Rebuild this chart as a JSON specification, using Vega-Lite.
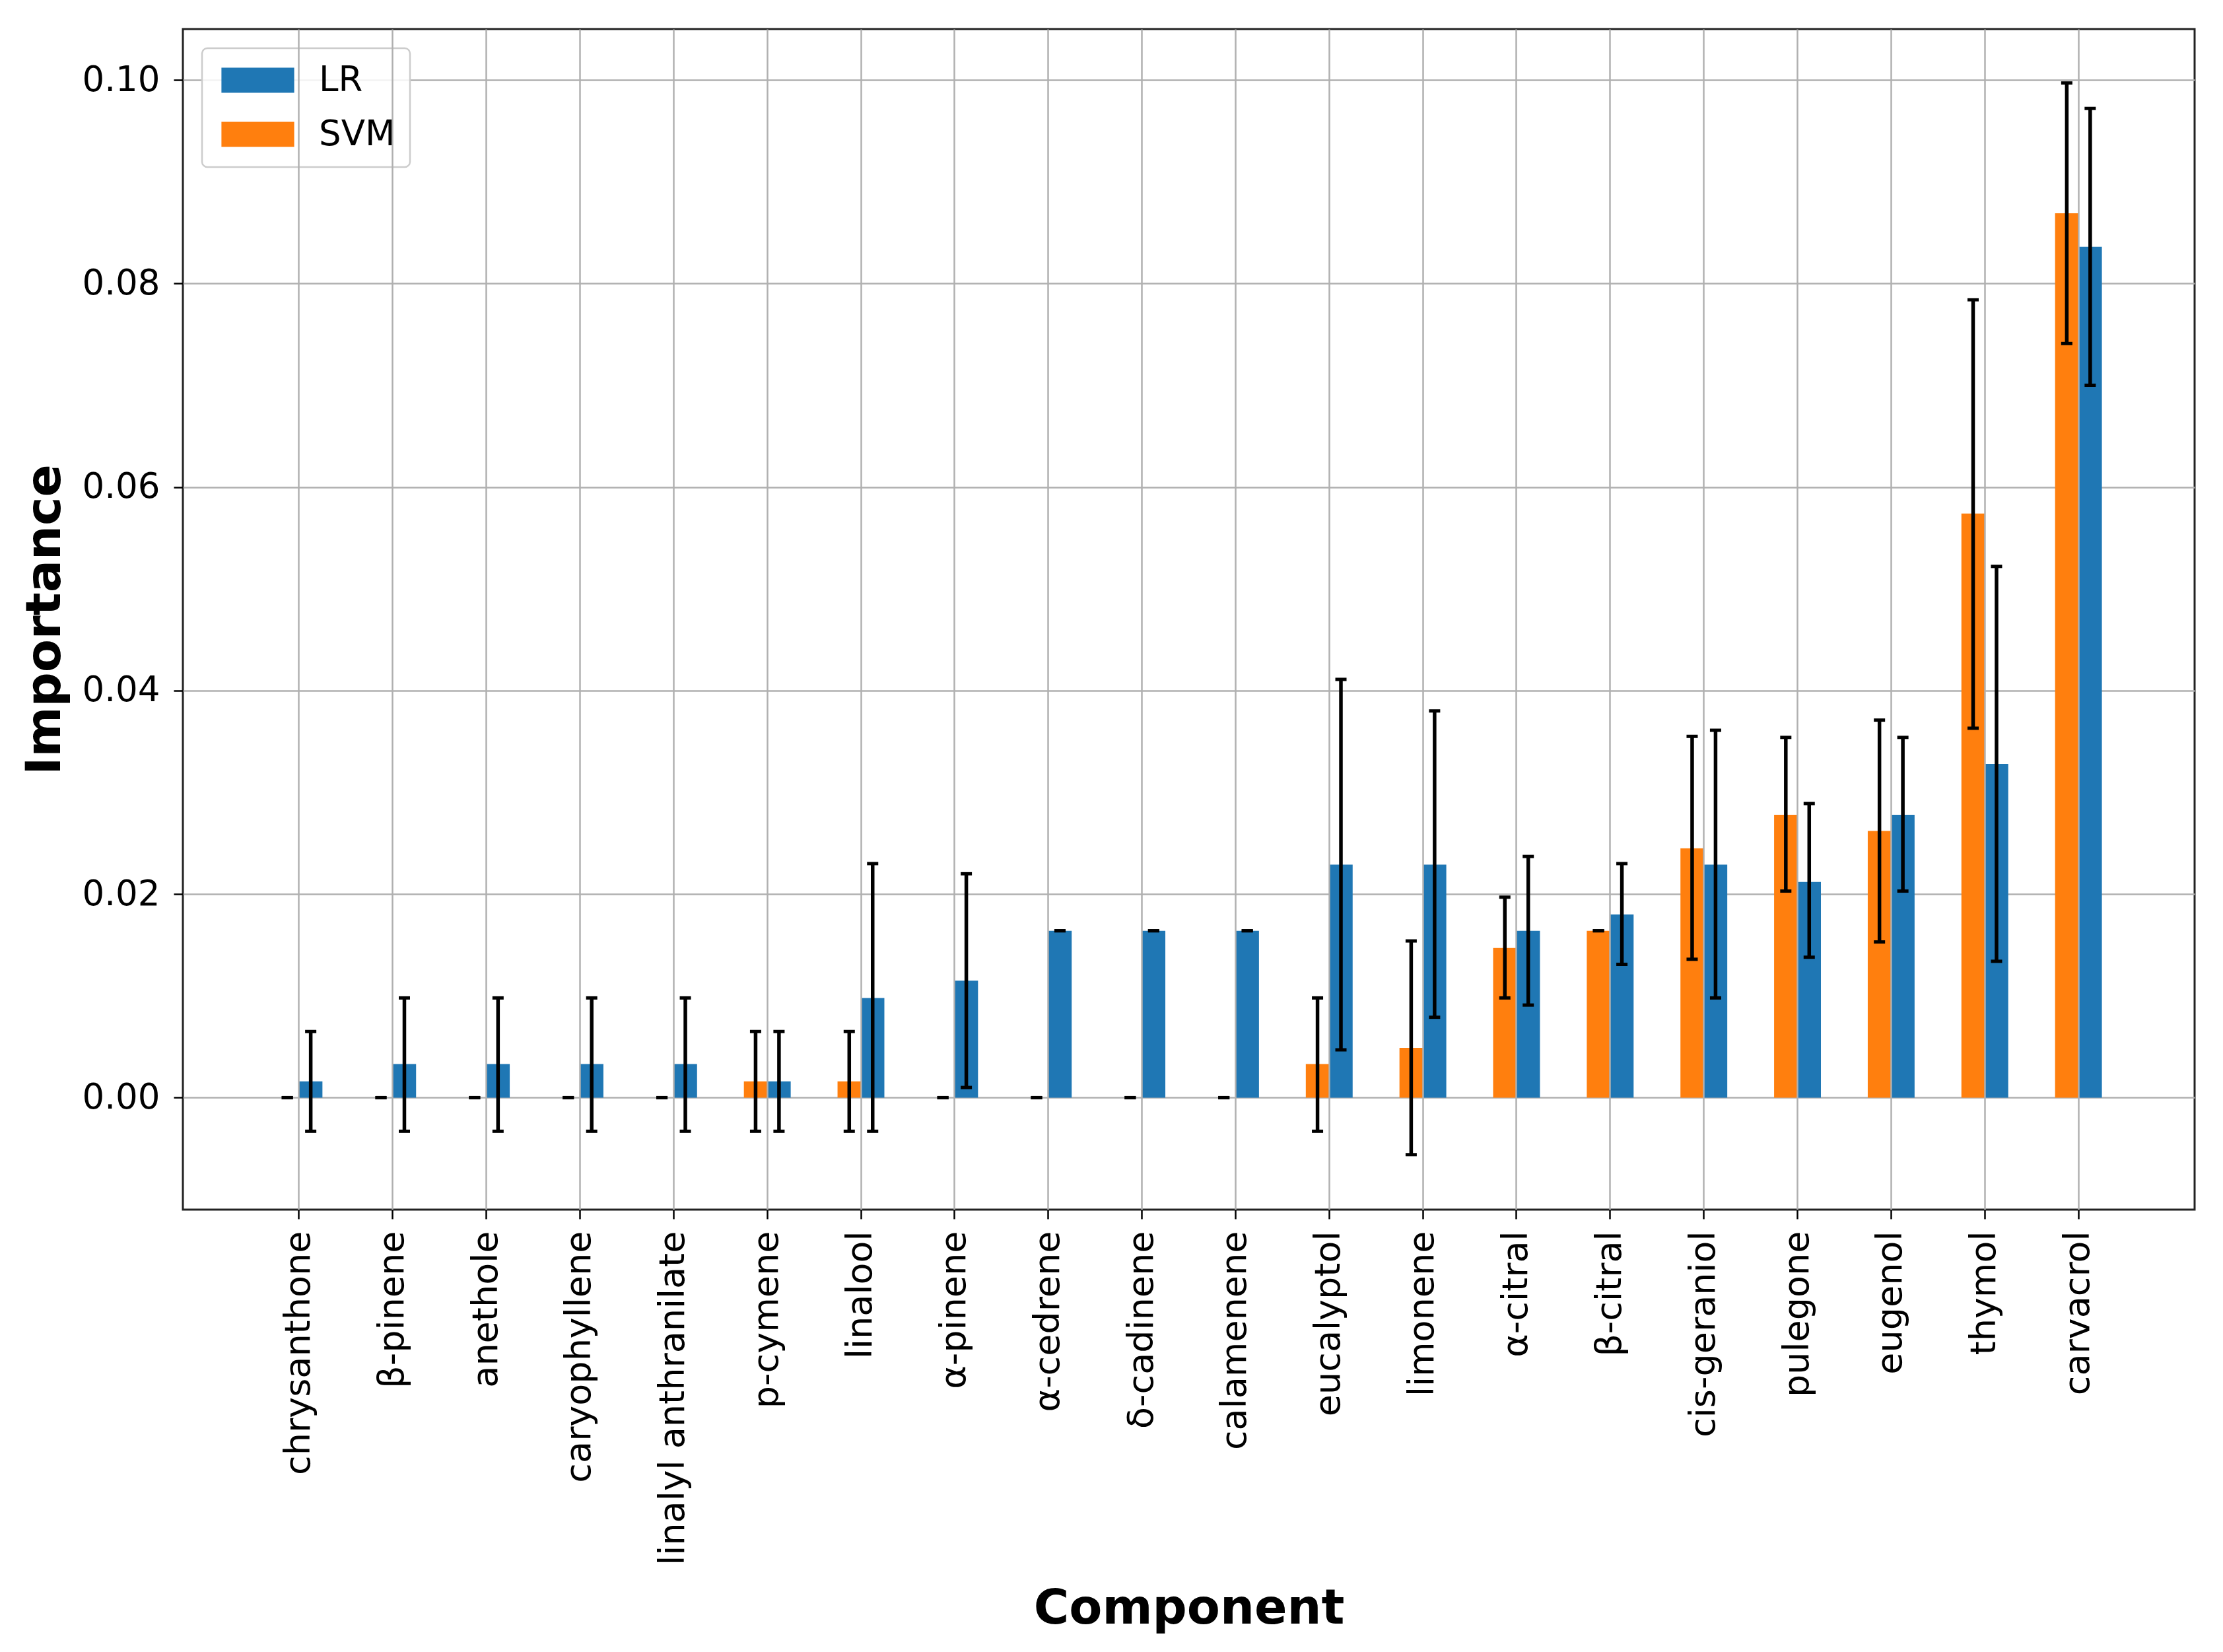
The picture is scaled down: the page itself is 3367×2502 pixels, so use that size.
{
  "$schema": "https://vega.github.io/schema/vega-lite/v6.json",
  "width": 3047,
  "height": 1788,
  "autosize": {"type": "none"},
  "padding": {"left": 277, "top": 44, "right": 43, "bottom": 670},
  "background": "white",
  "config": {
    "font": "DejaVu Sans",
    "view": {"stroke": "#222222", "strokeWidth": 3},
    "axisY": {
      "labelFontSize": 53,
      "labelColor": "black",
      "labelPadding": 21,
      "tickColor": "black",
      "tickSize": 14,
      "tickWidth": 2.5,
      "domain": false,
      "grid": true,
      "gridColor": "#b0b0b0",
      "gridWidth": 2.5,
      "titleFontSize": 73,
      "titleFontWeight": "bold",
      "titleColor": "black",
      "titlePadding": 18,
      "zindex": 1
    },
    "legend": {
      "orient": "top-left",
      "offset": 29,
      "padding": 22,
      "fillColor": "rgba(255,255,255,0.85)",
      "strokeColor": "#cccccc",
      "strokeWidth": 2.5,
      "cornerRadius": 8,
      "symbolType": "M-2.9,-1H2.9V1H-2.9Z",
      "symbolSize": 1444,
      "symbolOffset": 36,
      "symbolStrokeWidth": 0,
      "symbolOpacity": 1,
      "labelOffset": 66,
      "labelFontSize": 53,
      "labelColor": "black",
      "rowPadding": 28
    }
  },
  "data": {
    "values": [
      {"component": "chrysanthone", "model": "SVM", "importance": 0.0, "lo": 0.0, "hi": 0.0},
      {"component": "chrysanthone", "model": "LR", "importance": 0.0016, "lo": -0.0033, "hi": 0.0065},
      {"component": "β-pinene", "model": "SVM", "importance": 0.0, "lo": 0.0, "hi": 0.0},
      {"component": "β-pinene", "model": "LR", "importance": 0.0033, "lo": -0.0033, "hi": 0.0098},
      {"component": "anethole", "model": "SVM", "importance": 0.0, "lo": 0.0, "hi": 0.0},
      {"component": "anethole", "model": "LR", "importance": 0.0033, "lo": -0.0033, "hi": 0.0098},
      {"component": "caryophyllene", "model": "SVM", "importance": 0.0, "lo": 0.0, "hi": 0.0},
      {"component": "caryophyllene", "model": "LR", "importance": 0.0033, "lo": -0.0033, "hi": 0.0098},
      {"component": "linalyl anthranilate", "model": "SVM", "importance": 0.0, "lo": 0.0, "hi": 0.0},
      {"component": "linalyl anthranilate", "model": "LR", "importance": 0.0033, "lo": -0.0033, "hi": 0.0098},
      {"component": "p-cymene", "model": "SVM", "importance": 0.0016, "lo": -0.0033, "hi": 0.0065},
      {"component": "p-cymene", "model": "LR", "importance": 0.0016, "lo": -0.0033, "hi": 0.0065},
      {"component": "linalool", "model": "SVM", "importance": 0.0016, "lo": -0.0033, "hi": 0.0065},
      {"component": "linalool", "model": "LR", "importance": 0.0098, "lo": -0.0033, "hi": 0.0230},
      {"component": "α-pinene", "model": "SVM", "importance": 0.0, "lo": 0.0, "hi": 0.0},
      {"component": "α-pinene", "model": "LR", "importance": 0.0115, "lo": 0.0010, "hi": 0.0220},
      {"component": "α-cedrene", "model": "SVM", "importance": 0.0, "lo": 0.0, "hi": 0.0},
      {"component": "α-cedrene", "model": "LR", "importance": 0.0164, "lo": 0.0164, "hi": 0.0164},
      {"component": "δ-cadinene", "model": "SVM", "importance": 0.0, "lo": 0.0, "hi": 0.0},
      {"component": "δ-cadinene", "model": "LR", "importance": 0.0164, "lo": 0.0164, "hi": 0.0164},
      {"component": "calamenene", "model": "SVM", "importance": 0.0, "lo": 0.0, "hi": 0.0},
      {"component": "calamenene", "model": "LR", "importance": 0.0164, "lo": 0.0164, "hi": 0.0164},
      {"component": "eucalyptol", "model": "SVM", "importance": 0.0033, "lo": -0.0033, "hi": 0.0098},
      {"component": "eucalyptol", "model": "LR", "importance": 0.0229, "lo": 0.0047, "hi": 0.0411},
      {"component": "limonene", "model": "SVM", "importance": 0.0049, "lo": -0.0056, "hi": 0.0154},
      {"component": "limonene", "model": "LR", "importance": 0.0229, "lo": 0.0079, "hi": 0.0380},
      {"component": "α-citral", "model": "SVM", "importance": 0.0147, "lo": 0.0098, "hi": 0.0197},
      {"component": "α-citral", "model": "LR", "importance": 0.0164, "lo": 0.0091, "hi": 0.0237},
      {"component": "β-citral", "model": "SVM", "importance": 0.0164, "lo": 0.0164, "hi": 0.0164},
      {"component": "β-citral", "model": "LR", "importance": 0.0180, "lo": 0.0131, "hi": 0.0230},
      {"component": "cis-geraniol", "model": "SVM", "importance": 0.0245, "lo": 0.0136, "hi": 0.0355},
      {"component": "cis-geraniol", "model": "LR", "importance": 0.0229, "lo": 0.0098, "hi": 0.0361},
      {"component": "pulegone", "model": "SVM", "importance": 0.0278, "lo": 0.0203, "hi": 0.0354},
      {"component": "pulegone", "model": "LR", "importance": 0.0212, "lo": 0.0138, "hi": 0.0289},
      {"component": "eugenol", "model": "SVM", "importance": 0.0262, "lo": 0.0153, "hi": 0.0371},
      {"component": "eugenol", "model": "LR", "importance": 0.0278, "lo": 0.0203, "hi": 0.0354},
      {"component": "thymol", "model": "SVM", "importance": 0.0574, "lo": 0.0363, "hi": 0.0784},
      {"component": "thymol", "model": "LR", "importance": 0.0328, "lo": 0.0134, "hi": 0.0522},
      {"component": "carvacrol", "model": "SVM", "importance": 0.0869, "lo": 0.0741, "hi": 0.0997},
      {"component": "carvacrol", "model": "LR", "importance": 0.0836, "lo": 0.0700, "hi": 0.0972}
    ]
  },
  "encoding": {
    "x": {
      "field": "component",
      "type": "nominal",
      "sort": ["chrysanthone", "β-pinene", "anethole", "caryophyllene", "linalyl anthranilate", "p-cymene", "linalool", "α-pinene", "α-cedrene", "δ-cadinene", "calamenene", "eucalyptol", "limonene", "α-citral", "β-citral", "cis-geraniol", "pulegone", "eugenol", "thymol", "carvacrol"],
      "scale": {"paddingInner": 0.5, "paddingOuter": 0.99},
      "title": "Component",
      "axis": {
        "labelAngle": -90,
        "labelFontSize": 54,
        "labelLimit": 0,
        "labelColor": "black",
        "labelPadding": 18,
        "tickColor": "black",
        "tickSize": 14,
        "tickWidth": 2.5,
        "domain": false,
        "grid": true,
        "gridColor": "#b0b0b0",
        "gridWidth": 2.5,
        "bandPosition": 0.5,
        "titleFontSize": 73,
        "titleFontWeight": "bold",
        "titleColor": "black",
        "titleBaseline": "alphabetic",
        "titleY": 626,
        "zindex": 1
      }
    },
    "xOffset": {
      "field": "model",
      "type": "nominal",
      "sort": ["SVM", "LR"],
      "scale": {"paddingInner": 0, "paddingOuter": 0}
    }
  },
  "layer": [
    {
      "mark": {"type": "bar"},
      "encoding": {
        "y": {
          "field": "importance",
          "type": "quantitative",
          "scale": {"domain": [-0.011, 0.105], "nice": false, "zero": false},
          "title": "Importance",
          "axis": {
            "values": [0, 0.02, 0.04, 0.06, 0.08, 0.1],
            "format": ".2f"
          }
        },
        "color": {
          "field": "model",
          "type": "nominal",
          "scale": {"domain": ["LR", "SVM"], "range": ["#1f77b4", "#ff7f0e"]},
          "legend": {"title": null}
        }
      }
    },
    {
      "mark": {"type": "rule", "color": "black", "strokeWidth": 5.5},
      "encoding": {
        "y": {"field": "lo", "type": "quantitative", "title": "Importance"},
        "y2": {"field": "hi"}
      }
    },
    {
      "mark": {"type": "tick", "color": "black", "thickness": 5, "size": 17, "opacity": 1},
      "encoding": {
        "y": {"field": "lo", "type": "quantitative", "title": "Importance"}
      }
    },
    {
      "mark": {"type": "tick", "color": "black", "thickness": 5, "size": 17, "opacity": 1},
      "encoding": {
        "y": {"field": "hi", "type": "quantitative", "title": "Importance"}
      }
    }
  ]
}
